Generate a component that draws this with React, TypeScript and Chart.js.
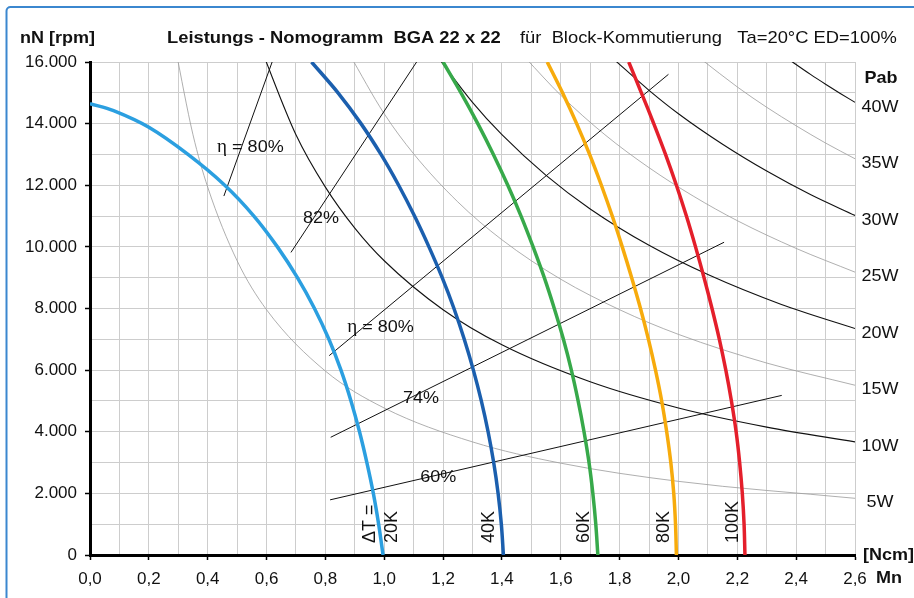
import { useEffect, useRef } from 'react';
import { Chart, registerables } from 'chart.js';

Chart.register(...registerables);

type Pt = { x: number; y: number };

// Thermal limit curves: torque Mn [Ncm] vs. speed nN [rpm] per winding temperature rise
const dT20: Pt[] = [
  { x: 0, y: 14650 }, { x: 0.08, y: 14420 }, { x: 0.2, y: 13880 }, { x: 0.333, y: 13000 },
  { x: 0.458, y: 12000 }, { x: 0.557, y: 11000 }, { x: 0.637, y: 10000 }, { x: 0.705, y: 9000 },
  { x: 0.763, y: 8000 }, { x: 0.812, y: 7000 }, { x: 0.853, y: 6000 }, { x: 0.887, y: 5000 },
  { x: 0.916, y: 4000 }, { x: 0.941, y: 3000 }, { x: 0.963, y: 2000 }, { x: 0.981, y: 1000 },
  { x: 0.996, y: 0 },
];
const dT40: Pt[] = [
  { x: 0.753, y: 16000 }, { x: 0.843, y: 15000 }, { x: 0.921, y: 14000 }, { x: 0.989, y: 13000 },
  { x: 1.049, y: 12000 }, { x: 1.103, y: 11000 }, { x: 1.152, y: 10000 }, { x: 1.197, y: 9000 },
  { x: 1.237, y: 8000 }, { x: 1.272, y: 7000 }, { x: 1.303, y: 6000 }, { x: 1.33, y: 5000 },
  { x: 1.353, y: 4000 }, { x: 1.372, y: 3000 }, { x: 1.387, y: 2000 }, { x: 1.398, y: 1000 },
  { x: 1.405, y: 0 },
];
const dT60: Pt[] = [
  { x: 1.2, y: 16000 }, { x: 1.261, y: 15000 }, { x: 1.318, y: 14000 }, { x: 1.371, y: 13000 },
  { x: 1.42, y: 12000 }, { x: 1.465, y: 11000 }, { x: 1.506, y: 10000 }, { x: 1.544, y: 9000 },
  { x: 1.578, y: 8000 }, { x: 1.609, y: 7000 }, { x: 1.636, y: 6000 }, { x: 1.659, y: 5000 },
  { x: 1.679, y: 4000 }, { x: 1.696, y: 3000 }, { x: 1.709, y: 2000 }, { x: 1.719, y: 1000 },
  { x: 1.726, y: 0 },
];
const dT80: Pt[] = [
  { x: 1.554, y: 16000 }, { x: 1.606, y: 15000 }, { x: 1.654, y: 14000 }, { x: 1.698, y: 13000 },
  { x: 1.738, y: 12000 }, { x: 1.775, y: 11000 }, { x: 1.809, y: 10000 }, { x: 1.841, y: 9000 },
  { x: 1.871, y: 8000 }, { x: 1.898, y: 7000 }, { x: 1.922, y: 6000 }, { x: 1.943, y: 5000 },
  { x: 1.96, y: 4000 }, { x: 1.974, y: 3000 }, { x: 1.984, y: 2000 }, { x: 1.99, y: 1000 },
  { x: 1.993, y: 0 },
];
const dT100: Pt[] = [
  { x: 1.831, y: 16000 }, { x: 1.874, y: 15000 }, { x: 1.916, y: 14000 }, { x: 1.956, y: 13000 },
  { x: 1.993, y: 12000 }, { x: 2.027, y: 11000 }, { x: 2.058, y: 10000 }, { x: 2.087, y: 9000 },
  { x: 2.114, y: 8000 }, { x: 2.139, y: 7000 }, { x: 2.161, y: 6000 }, { x: 2.18, y: 5000 },
  { x: 2.196, y: 4000 }, { x: 2.208, y: 3000 }, { x: 2.217, y: 2000 }, { x: 2.223, y: 1000 },
  { x: 2.226, y: 0 },
];
const thermalCurves = [dT20, dT40, dT60, dT80, dT100];
const thermalColors = ['#2b9fe0', '#1b5fae', '#37a94a', '#f7ab0c', '#e41f2b'];
const thermalLabels = ['ΔT =', '20K', '40K', '60K', '80K', '100K'];
const thermalLabelX = [0.952, 1.025, 1.356, 1.679, 1.951, 2.187];

// Output power hyperbolas (Pab)
const pab5: Pt[] = [
  { x: 0.29, y: 16460 }, { x: 0.35, y: 13640 }, { x: 0.4, y: 11940 }, { x: 0.5, y: 9550 },
  { x: 0.6, y: 7960 }, { x: 0.8, y: 5970 }, { x: 1.0, y: 4770 }, { x: 1.3, y: 3670 },
  { x: 1.6, y: 2980 }, { x: 2.0, y: 2390 }, { x: 2.6, y: 1840 },
];
const pab10: Pt[] = [
  { x: 0.58, y: 16460 }, { x: 0.7, y: 13640 }, { x: 0.8, y: 11940 }, { x: 0.9, y: 10610 },
  { x: 1.0, y: 9550 }, { x: 1.2, y: 7960 }, { x: 1.4, y: 6820 }, { x: 1.7, y: 5620 },
  { x: 2.0, y: 4770 }, { x: 2.3, y: 4150 }, { x: 2.6, y: 3670 },
];
const pab15: Pt[] = [
  { x: 0.88, y: 16280 }, { x: 1.0, y: 14320 }, { x: 1.1, y: 13020 }, { x: 1.25, y: 11460 },
  { x: 1.4, y: 10230 }, { x: 1.6, y: 8950 }, { x: 1.8, y: 7960 }, { x: 2.0, y: 7160 },
  { x: 2.3, y: 6230 }, { x: 2.6, y: 5510 },
];
const pab20: Pt[] = [
  { x: 1.18, y: 16190 }, { x: 1.3, y: 14690 }, { x: 1.4, y: 13640 }, { x: 1.55, y: 12320 },
  { x: 1.7, y: 11230 }, { x: 1.9, y: 10050 }, { x: 2.1, y: 9100 }, { x: 2.35, y: 8130 },
  { x: 2.6, y: 7350 },
];
const pab25: Pt[] = [
  { x: 1.48, y: 16130 }, { x: 1.6, y: 14920 }, { x: 1.75, y: 13640 }, { x: 1.9, y: 12570 },
  { x: 2.05, y: 11650 }, { x: 2.2, y: 10850 }, { x: 2.4, y: 9950 }, { x: 2.6, y: 9180 },
];
const pab30: Pt[] = [
  { x: 1.78, y: 16090 }, { x: 1.9, y: 15080 }, { x: 2.0, y: 14320 }, { x: 2.15, y: 13330 },
  { x: 2.3, y: 12460 }, { x: 2.45, y: 11690 }, { x: 2.6, y: 11020 },
];
const pab35: Pt[] = [
  { x: 2.08, y: 16070 }, { x: 2.2, y: 15190 }, { x: 2.3, y: 14530 }, { x: 2.4, y: 13930 },
  { x: 2.5, y: 13370 }, { x: 2.6, y: 12860 },
];
const pab40: Pt[] = [
  { x: 2.38, y: 16050 }, { x: 2.45, y: 15590 }, { x: 2.5, y: 15280 }, { x: 2.55, y: 14980 },
  { x: 2.6, y: 14690 },
];
const pabCurves = [pab5, pab10, pab15, pab20, pab25, pab30, pab35, pab40];
const pabLabels = ['5W', '10W', '15W', '20W', '25W', '30W', '35W', '40W'];

// Efficiency lines (η)
const eta80a: Pt[] = [{ x: 0.455, y: 11650 }, { x: 0.619, y: 16000 }];
const eta82: Pt[] = [{ x: 0.683, y: 9820 }, { x: 1.11, y: 16000 }];
const eta80b: Pt[] = [{ x: 0.813, y: 6470 }, { x: 1.966, y: 15600 }];
const eta74: Pt[] = [{ x: 0.818, y: 3820 }, { x: 2.155, y: 10150 }];
const eta60: Pt[] = [{ x: 0.816, y: 1790 }, { x: 2.351, y: 5180 }];
const etaLines = [eta80a, eta82, eta80b, eta74, eta60];
const etaLabels = ['η = 80%', '82%', 'η = 80%', '74%', '60%'];
const etaLabelPos: Pt[] = [
  { x: 0.432, y: 13240 }, { x: 0.724, y: 10940 }, { x: 0.874, y: 7400 },
  { x: 1.064, y: 5100 }, { x: 1.122, y: 2530 },
];

// Axis ranges
const xMin = 0;
const xMax = 2.6;
const xStep = 0.1;
const yMin = 0;
const yMax = 16000;
const yStep = 1000;

const titleBold = 'Leistungs - Nomogramm  BGA 22 x 22';
const titleRest = 'für  Block-Kommutierung   Ta=20°C ED=100%';
const yAxisTitle = 'nN [rpm]';
const xUnit = '[Ncm]';
const xAxisTitle = 'Mn';
const pabTitle = 'Pab';

const FAMILY = '"Liberation Sans", Arial, Helvetica, sans-serif';
const SERIF = '"Liberation Serif", "Times New Roman", serif';
const INK = '#111111';

function drawText(
  ctx: CanvasRenderingContext2D,
  s: string,
  x: number,
  y: number,
  font: string,
  align: CanvasTextAlign = 'left',
  sx = 1.07,
  rot = 0,
) {
  ctx.save();
  ctx.translate(x, y);
  if (rot) ctx.rotate(rot);
  ctx.scale(sx, 1);
  ctx.font = font;
  ctx.textAlign = align;
  ctx.textBaseline = 'middle';
  ctx.fillStyle = INK;
  ctx.fillText(s, 0, 0);
  ctx.restore();
}

// Greek eta is set in a serif face, the rest of the label in the sans face
function drawEtaText(ctx: CanvasRenderingContext2D, s: string, x: number, y: number, size: number, sx = 1.06) {
  if (!s.startsWith('η')) {
    drawText(ctx, s, x, y, `${size}px ${FAMILY}`, 'left', sx);
    return;
  }
  ctx.save();
  ctx.translate(x, y);
  ctx.scale(sx, 1);
  ctx.textAlign = 'left';
  ctx.textBaseline = 'middle';
  ctx.fillStyle = INK;
  ctx.font = `${size + 1}px ${SERIF}`;
  ctx.fillText('η', 0, 0);
  const w = ctx.measureText('η').width;
  ctx.font = `${size}px ${FAMILY}`;
  ctx.fillText(s.slice(1), w, 0);
  ctx.restore();
}

const framePlugin = {
  id: 'frame',
  beforeDraw(chart: any) {
    const ctx: CanvasRenderingContext2D = chart.ctx;
    ctx.save();
    ctx.fillStyle = '#ffffff';
    ctx.fillRect(0, 0, chart.width, chart.height);
    ctx.strokeStyle = '#3b87cf';
    ctx.lineWidth = 2;
    ctx.beginPath();
    (ctx as any).roundRect(6.5, 7, chart.width + 20, chart.height + 20, 4);
    ctx.stroke();
    ctx.restore();
  },
};

const labelsPlugin = {
  id: 'nomogramLabels',
  afterDraw(chart: any) {
    const ctx: CanvasRenderingContext2D = chart.ctx;
    const xs = chart.scales.x;
    const ys = chart.scales.y;
    const area = chart.chartArea;
    const reg = `17px ${FAMILY}`;
    const bold = `bold 17px ${FAMILY}`;

    // header
    drawText(ctx, yAxisTitle, 20, 38, bold, 'left', 1.06);
    drawText(ctx, titleBold, 167, 38, bold, 'left', 1.08);
    drawText(ctx, titleRest, 520, 38, reg, 'left', 1.08);

    // efficiency labels
    etaLabels.forEach((s, i) => {
      const p = etaLabelPos[i];
      drawEtaText(ctx, s, xs.getPixelForValue(p.x), ys.getPixelForValue(p.y), 17);
    });

    // temperature rise labels (vertical)
    thermalLabels.forEach((s, i) => {
      const px = xs.getPixelForValue(thermalLabelX[i]);
      drawText(ctx, s, px, area.bottom - 12, `18px ${FAMILY}`, 'left', 1, -Math.PI / 2);
    });

    // power labels on the right
    drawText(ctx, pabTitle, area.right + 26, 78, bold, 'center', 1.06);
    pabCurves.forEach((c, i) => {
      const last = c[c.length - 1];
      drawText(ctx, pabLabels[i], area.right + 25, ys.getPixelForValue(last.y) + 4.5, reg, 'center', 1.06);
    });

    // x axis unit and name
    drawText(ctx, xUnit, area.right + 8, area.bottom, bold, 'left', 1.06);
    drawText(ctx, xAxisTitle, area.right + 21, area.bottom + 23, bold, 'left', 1.06);
  },
};

const lineBase = {
  pointRadius: 0,
  pointHoverRadius: 0,
  fill: false,
  clip: 0,
  capBezierPoints: false,
};

export default function App() {
  const ref = useRef<HTMLCanvasElement | null>(null);

  useEffect(() => {
    if (!ref.current) return;
    Chart.defaults.font.family = FAMILY;

    const datasets: any[] = [
      ...thermalCurves.map((d, i) => ({
        ...lineBase,
        data: d,
        borderColor: thermalColors[i],
        borderWidth: 3.5,
        tension: 0.35,
        order: 0,
      })),
      ...etaLines.map((d) => ({
        ...lineBase,
        data: d,
        borderColor: '#111111',
        borderWidth: 1,
        tension: 0,
        order: 1,
      })),
      ...pabCurves.map((d, i) => ({
        ...lineBase,
        data: d,
        borderColor: i % 2 === 1 ? '#111111' : '#9a9a9a',
        borderWidth: i % 2 === 1 ? 1.1 : 0.8,
        cubicInterpolationMode: 'monotone',
        order: 2,
      })),
    ];

    const chart = new Chart(ref.current, {
      type: 'line',
      data: { datasets },
      options: {
        animation: false,
        responsive: false,
        devicePixelRatio: 1,
        events: [],
        layout: { padding: { top: 62, right: 59, left: 0, bottom: 0 } },
        plugins: {
          legend: { display: false },
          tooltip: { enabled: false },
          title: { display: false },
        },
        scales: {
          x: {
            type: 'linear',
            min: xMin,
            max: xMax,
            afterFit: (s: any) => {
              s.height = 43;
            },
            ticks: {
              stepSize: xStep,
              autoSkip: false,
              maxRotation: 0,
              minRotation: 0,
              padding: 9,
              color: INK,
              font: { size: 17 },
              callback: (v: any) => {
                const i = Math.round(Number(v) * 10);
                return i % 2 === 0 ? (i / 10).toFixed(1).replace('.', ',') : '';
              },
            },
            grid: {
              color: '#cdcdcd',
              lineWidth: 1,
              tickLength: 5,
              tickWidth: 1.5,
              tickColor: (c: any) =>
                Math.round((c.tick?.value ?? 0) * 10) % 2 === 0 ? '#000000' : 'rgba(0,0,0,0)',
            },
            border: { color: '#000000', width: 3 },
          },
          y: {
            type: 'linear',
            min: yMin,
            max: yMax,
            afterFit: (s: any) => {
              s.width = 90;
            },
            ticks: {
              stepSize: yStep,
              autoSkip: false,
              padding: 8,
              color: INK,
              font: { size: 17 },
              callback: (v: any) => {
                const n = Math.round(Number(v));
                if (n % 2000 !== 0) return '';
                return n === 0 ? '0' : `${n / 1000}.000`;
              },
            },
            grid: {
              color: '#cdcdcd',
              lineWidth: 1,
              tickLength: 5,
              tickWidth: 1.5,
              tickColor: (c: any) =>
                Math.round(c.tick?.value ?? 0) % 2000 === 0 ? '#000000' : 'rgba(0,0,0,0)',
            },
            border: { color: '#000000', width: 3 },
          },
        },
      } as any,
      plugins: [framePlugin, labelsPlugin],
    });

    return () => chart.destroy();
  }, []);

  return (
    <div style={{ position: 'absolute', left: 0, top: 0, width: 914, height: 598 }}>
      <canvas ref={ref} width={914} height={598} style={{ display: 'block', width: 914, height: 598 }} />
    </div>
  );
}
